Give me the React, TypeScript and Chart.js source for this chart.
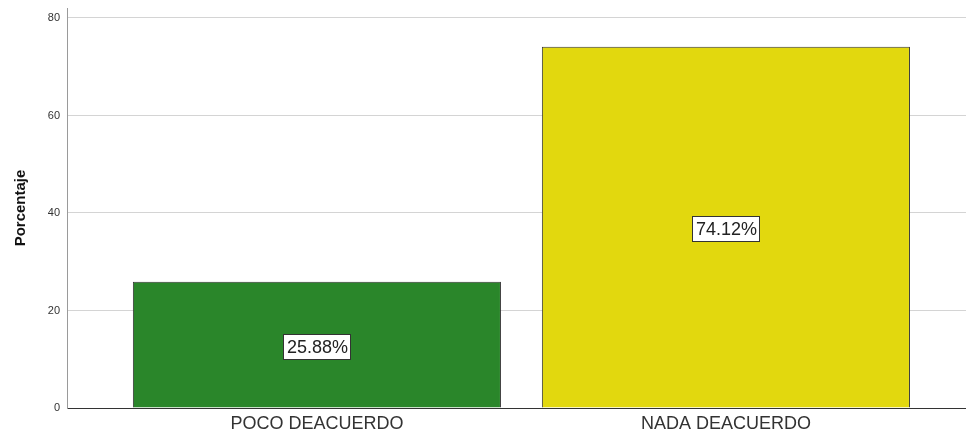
import React, { useEffect, useRef } from "react";
import { Chart, registerables } from "chart.js";

Chart.register(...registerables);

const categories = ["POCO DEACUERDO", "NADA DEACUERDO"];
const percentages = [25.88, 74.12];
const barColors = ["#2a862a", "#e2d80e"];
const yTicks = [0, 20, 40, 60, 80];
const yAxisTitle = "Porcentaje";

const labelPlugin = {
  id: "valueLabels",
  afterDatasetsDraw(chart: any) {
    const ctx = chart.ctx;
    const meta = chart.getDatasetMeta(0);
    ctx.save();
    ctx.font = "18px 'Liberation Sans', Arial, sans-serif";
    ctx.textAlign = "center";
    ctx.textBaseline = "middle";
    meta.data.forEach((bar: any, i: number) => {
      const text = percentages[i].toFixed(2) + "%";
      const cx = bar.x;
      const cy = (bar.y + bar.base) / 2 + 1.5;
      const w = Math.round(ctx.measureText(text).width + 6);
      const h = 25;
      const x0 = Math.round(cx - w / 2);
      const y0 = Math.round(cy - h / 2);
      ctx.fillStyle = "#ffffff";
      ctx.fillRect(x0, y0, w, h);
      ctx.strokeStyle = "#333333";
      ctx.lineWidth = 1;
      ctx.strokeRect(x0 + 0.5, y0 + 0.5, w, h);
      ctx.fillStyle = "#222222";
      ctx.fillText(text, cx + 0.5, cy + 1.5);
    });
    ctx.restore();
  },
};

export default function App() {
  const ref = useRef<HTMLCanvasElement | null>(null);
  useEffect(() => {
    if (!ref.current) return;
    const chart = new Chart(ref.current, {
      type: "bar",
      data: {
        datasets: [
          {
            data: categories.map((_, i) => ({ x: i, y: percentages[i] })),
            backgroundColor: barColors,
            borderColor: "#333333",
            borderWidth: 1,
            barPercentage: 0.9,
            categoryPercentage: 1,
          },
        ],
      },
      options: {
        animation: false,
        responsive: false,
        maintainAspectRatio: false,
        layout: { padding: { top: 8, right: 0, left: 0, bottom: 0 } },
        plugins: { legend: { display: false }, tooltip: { enabled: false } },
        scales: {
          x: {
            type: "linear",
            offset: false,
            min: -0.611,
            max: 1.587,
            afterBuildTicks: (s: any) => {
              s.ticks = categories.map((_, i) => ({ value: i }));
            },
            afterFit: (s: any) => {
              s.height = 24;
              s.paddingLeft = 0;
              s.paddingRight = 0;
            },
            grid: { display: false, drawTicks: false },
            border: { color: "#333333", width: 1 },
            ticks: {
              padding: 5,
              color: "#333333",
              font: { family: "'Liberation Sans', Arial, sans-serif", size: 18 },
              callback: (v: any) => categories[v as number] ?? "",
              maxRotation: 0,
            },
          },
          y: {
            min: 0,
            max: 82.05,
            afterBuildTicks: (s: any) => {
              s.ticks = yTicks.map((v) => ({ value: v }));
            },
            afterFit: (s: any) => {
              s.width = 67;
              s.paddingTop = 0;
              s.paddingBottom = 0;
            },
            grid: { color: "#d4d4d4", drawTicks: false },
            border: { color: "#9a9a9a", width: 1 },
            ticks: {
              padding: 7,
              color: "#333333",
              font: { family: "'Liberation Sans', Arial, sans-serif", size: 11 },
            },
            title: {
              display: true,
              text: yAxisTitle,
              color: "#111111",
              padding: { top: 12, bottom: 4 },
              font: { family: "'Liberation Sans Narrow', 'Liberation Sans', Arial, sans-serif", size: 15, weight: "bold" },
            },
          },
        },
      },
      plugins: [labelPlugin],
    } as any);
    return () => chart.destroy();
  }, []);
  return (
    <div style={{ position: "fixed", left: 0, top: 0, width: 966, height: 432, background: "#ffffff" }}>
      <canvas ref={ref} width={966} height={432} style={{ width: 966, height: 432, display: "block" }} />
    </div>
  );
}
